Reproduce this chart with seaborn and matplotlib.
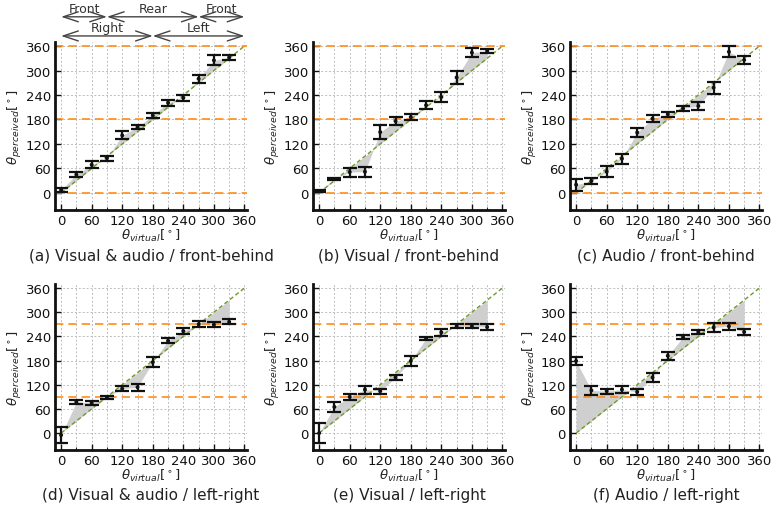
import matplotlib.pyplot as plt
import seaborn as sns
import numpy as np

sns.set_style("whitegrid")
plt.rcParams['font.family'] = ['DejaVu Sans']

angles = np.arange(0, 360, 30)

# perceived angle means / error half-widths, front-behind row
va_fb = [7, 45, 69, 85, 141, 161, 190, 221, 233, 280, 325, 332]
va_fb_err = [5, 5, 8, 6, 10, 5, 7, 7, 7, 10, 12, 6]
v_fb = [4, 34, 51, 52, 149, 176, 186, 215, 235, 283, 344, 348]
v_fb_err = [3, 3, 11, 12, 18, 10, 8, 10, 12, 15, 12, 6]
a_fb = [20, 29, 52, 84, 148, 182, 193, 207, 213, 258, 346, 326]
a_fb_err = [15, 8, 13, 12, 11, 8, 6, 6, 10, 15, 13, 10]

# left-right row
va_lr = [-5, 77, 75, 89, 110, 114, 176, 229, 253, 270, 269, 276]
va_lr_err = [20, 5, 5, 4, 6, 9, 12, 6, 8, 7, 6, 6]
v_lr = [0, 65, 90, 108, 104, 138, 179, 235, 250, 265, 265, 263]
v_lr_err = [24, 12, 8, 10, 6, 7, 12, 3, 8, 5, 5, 8]
a_lr = [179, 106, 104, 108, 102, 138, 192, 238, 251, 262, 265, 251]
a_lr_err = [10, 11, 6, 8, 7, 12, 10, 5, 6, 10, 9, 8]

panels = [
    (va_fb, va_fb_err, [0, 180, 360], "(a) Visual & audio / front-behind"),
    (v_fb, v_fb_err, [0, 180, 360], "(b) Visual / front-behind"),
    (a_fb, a_fb_err, [0, 180, 360], "(c) Audio / front-behind"),
    (va_lr, va_lr_err, [90, 270], "(d) Visual & audio / left-right"),
    (v_lr, v_lr_err, [90, 270], "(e) Visual / left-right"),
    (a_lr, a_lr_err, [90, 270], "(f) Audio / left-right"),
]

W, H = 772, 510
fig = plt.figure(figsize=(W / 100, H / 100), dpi=100)
lefts = [55, 313, 570]
tops = [43, 285]
bottoms = [211, 451]

axes = []
for i, (vals, errs, refs, caption) in enumerate(panels):
    r, c = divmod(i, 3)
    l = lefts[c]
    ax = fig.add_axes([l / W, 1 - bottoms[r] / H, 192 / W, (bottoms[r] - tops[r]) / H])
    axes.append(ax)
    vals = np.array(vals)
    ax.fill_between(angles, vals, angles, color='#cfcfcf', lw=0, zorder=1)
    diag = np.array([0, 360])
    sns.lineplot(x=diag, y=diag, ax=ax, color='#6f9a2a', lw=1.0,
                 linestyle=(0, (3, 2)), zorder=2)
    for yv in refs:
        ax.axhline(yv, color='#ff8c1a', lw=1.2, linestyle=(0, (5, 3)), zorder=2)
    ax.errorbar(angles, vals, yerr=errs, fmt='none', ecolor='#111111',
                elinewidth=1.6, capsize=5, capthick=1.6, zorder=4)
    sns.scatterplot(x=angles, y=vals, ax=ax, color='#111111', s=8,
                    edgecolor='none', zorder=5)
    ax.set_xlim(-12, 365)
    ax.set_ylim(-42, 370)
    ax.set_xticks(range(0, 361, 60))
    ax.set_yticks(range(0, 361, 60))
    ax.set_xticks(range(0, 361, 30), minor=True)
    ax.grid(True, which='both', color='#bdbdbd', lw=0.7, linestyle=(0, (2, 2)))
    ax.set_facecolor('white')
    for s in ['top', 'right']:
        ax.spines[s].set_visible(False)
    for s in ['left', 'bottom']:
        ax.spines[s].set_color('#111111')
        ax.spines[s].set_linewidth(2.0)
    ax.tick_params(which='major', direction='in', length=4, width=1,
                   labelsize=9.5, colors='#111111', pad=3, left=True, bottom=True)
    ax.tick_params(which='minor', direction='in', length=2, width=0.8,
                   bottom=True)
    ax.set_xlabel(r'$\theta_{virtual}[^\circ]$', fontsize=9.5, labelpad=0, color='#222222')
    ax.set_ylabel(r'$\theta_{perceived}[^\circ]$', fontsize=9.5, labelpad=1, color='#222222')
    fig.text((l + 96) / W, 1 - (bottoms[r] + 45) / H, caption, ha='center',
             va='center', fontsize=11, color='#222222')

# region arrows above panel (a)
ax = axes[0]
arrow_kw = dict(arrowstyle='<->, head_length=0.9, head_width=0.3',
                color='#444444', lw=1.0, mutation_scale=12, shrinkA=0, shrinkB=0)
for x0, x1, label, yb in [(0, 90, 'Front', 1.15), (90, 270, 'Rear', 1.15),
                         (270, 360, 'Front', 1.15), (0, 180, 'Right', 1.036),
                         (180, 360, 'Left', 1.036)]:
    ax.annotate('', xy=(x0, yb), xytext=(x1, yb),
                xycoords=('data', 'axes fraction'), arrowprops=arrow_kw,
                annotation_clip=False)
    ax.text((x0 + x1) / 2, yb + 0.012, label, transform=ax.get_xaxis_transform(),
            ha='center', va='bottom', fontsize=9, color='#333333')

fig.savefig('out.png', dpi=100)
